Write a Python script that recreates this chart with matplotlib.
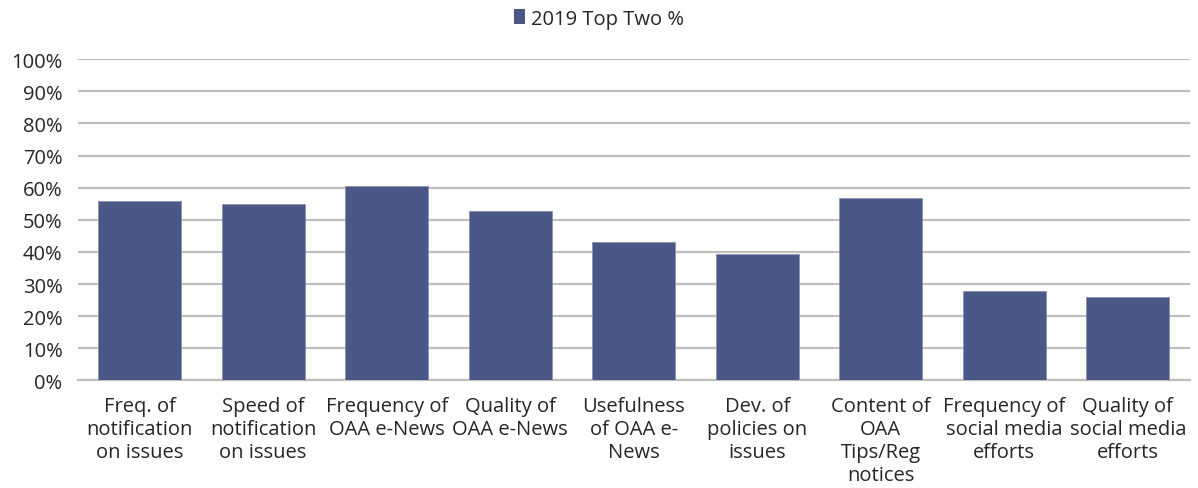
import matplotlib
matplotlib.use("Agg")
import matplotlib.pyplot as plt
from matplotlib.ticker import MultipleLocator, FuncFormatter
from matplotlib.patches import Patch

categories = [
    "Freq. of\nnotification\non issues",
    "Speed of\nnotification\non issues",
    "Frequency of\nOAA e-News",
    "Quality of\nOAA e-News",
    "Usefulness\nof OAA e-\nNews",
    "Dev. of\npolicies on\nissues",
    "Content of\nOAA\nTips/Reg\nnotices",
    "Frequency of\nsocial media\nefforts",
    "Quality of\nsocial media\nefforts",
]
top_two_2019 = [55.7, 54.9, 60.6, 52.7, 43.0, 39.3, 56.9, 27.7, 26.1]
series_name = "2019 Top Two %"

plt.rcParams["font.family"] = ["Open Sans", "DejaVu Sans"]
bar_color = "#4a5787"
text_color = "#262626"
fs = 14.5

fig = plt.figure(figsize=(11.98, 4.89), dpi=100)
ax = fig.add_axes([0.065, 0.22, 0.928, 0.657])

x = range(len(categories))
ax.bar(x, top_two_2019, width=0.67, color=bar_color, edgecolor="#8a92ad",
       linewidth=0.6, zorder=3)

ax.set_ylim(0, 100)
ax.set_xlim(-0.5, len(categories) - 0.5)
ax.yaxis.set_major_locator(MultipleLocator(10))
ax.yaxis.set_major_formatter(FuncFormatter(lambda v, p: f"{v:.0f}%"))
ax.grid(axis="y", color="#bfbfbf", linewidth=1.6, zorder=0)
ax.set_xticks(list(x))
ax.set_xticklabels(categories, fontsize=fs, color=text_color, linespacing=1.2)
ax.tick_params(axis="y", labelsize=fs, labelcolor=text_color, length=0, pad=11)
ax.tick_params(axis="x", length=0, pad=11)
for side in ["top", "right", "left"]:
    ax.spines[side].set_visible(False)
ax.spines["bottom"].set_color("#bfbfbf")
ax.spines["bottom"].set_linewidth(1.6)

handle = Patch(facecolor=bar_color, edgecolor="none")
fig.legend([handle], [series_name], loc="center", bbox_to_anchor=(0.5, 0.96),
           frameon=False, fontsize=fs, handlelength=0.5, handleheight=0.8,
           handletextpad=0.3, labelcolor=text_color)

fig.savefig("out.png", dpi=100, facecolor="white")
